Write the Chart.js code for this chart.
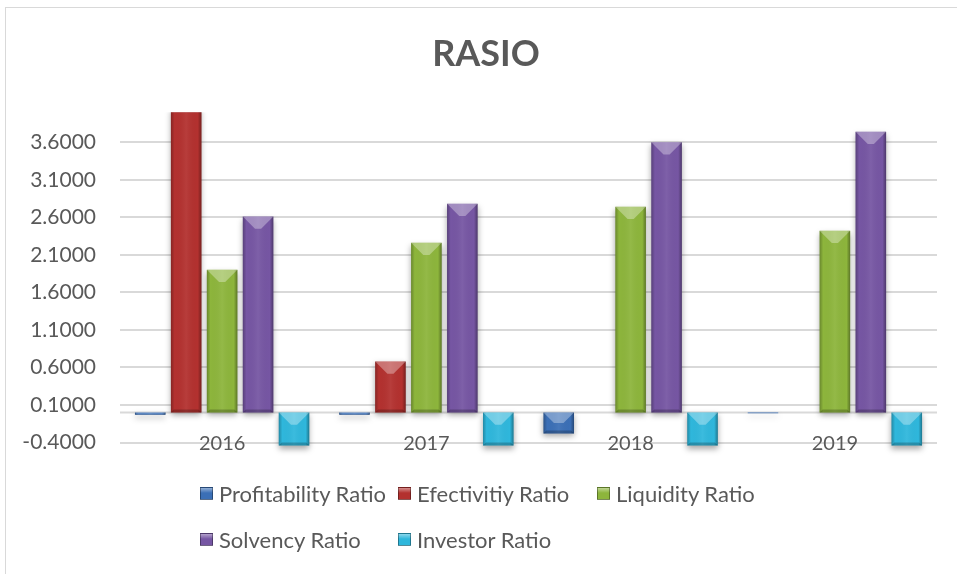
<!DOCTYPE html>
<html>
<head>
<meta charset="utf-8">
<script src="https://cdn.jsdelivr.net/npm/chart.js@4.4.0/dist/chart.umd.min.js"></script>
<style>
  body { margin: 0; background: #fff; font-family: Lato, sans-serif; }
  #wrap { position: relative; width: 957px; height: 574px; overflow: hidden; }
  #frame { position: absolute; left: 5px; top: 7px; width: 1000px; height: 620px; border: 1px solid #d9d9d9; box-sizing: border-box; }
  canvas { position: absolute; left: 0; top: 0; }
  #legend { position: absolute; left: 200px; top: 480px; width: 600px; }
  .item { position: absolute; display: flex; align-items: center; white-space: nowrap; font-size: 22px; color: #595959; }
  .box { width: 13px; height: 13px; margin-right: 6px; box-sizing: border-box; border: 1px solid rgba(0,0,0,0.35); }
</style>
</head>
<body>
<div id="wrap">
  <div id="frame"></div>
  <canvas id="ratioChart" width="957" height="574"></canvas>
  <div id="legend"></div>
</div>
<script>
// chart data
const years = ['2016', '2017', '2018', '2019'];
const profitability = [-0.03, -0.03, -0.28, -0.01];
const efectivitiy = [4.05, 0.68, 0, 0];
const liquidity = [1.90, 2.26, 2.74, 2.42];
const solvency = [2.61, 2.78, 3.60, 3.74];
const investor = [-0.44, -0.44, -0.44, -0.44];
const yTicks = [-0.4, 0.1, 0.6, 1.1, 1.6, 2.1, 2.6, 3.1, 3.6];

const seriesNames = ['Profitability Ratio', 'Efectivitiy Ratio', 'Liquidity Ratio', 'Solvency Ratio', 'Investor Ratio'];
const seriesColors = ['#3b6fb6', '#b3312f', '#8db53c', '#7656a3', '#2fb7dc'];
const seriesData = [profitability, efectivitiy, liquidity, solvency, investor];

const textColor = '#595959';
const gridColor = '#d9d9d9';

// zero axis line + soft shadow under bars + bevel look
const bevelPlugin = {
    id: 'bevel',
    afterLayout(chart) {
        // the original chart box is wider than the picture, so its title sits right of centre
        if (chart.titleBlock) chart.titleBlock.left = 35;
    },
    beforeDatasetsDraw(chart) {
        const ctx = chart.ctx;
        const area = chart.chartArea;
        const y0 = chart.scales.y.getPixelForValue(0);
        ctx.save();
        ctx.strokeStyle = gridColor;
        ctx.lineWidth = 2;
        ctx.beginPath();
        ctx.moveTo(area.left, y0);
        ctx.lineTo(area.right, y0);
        ctx.stroke();
        ctx.restore();
        ctx.save();
        ctx.shadowColor = 'rgba(0,0,0,0.35)';
        ctx.shadowBlur = 6;
        ctx.shadowOffsetY = 3;
    },
    afterDatasetsDraw(chart) {
        const ctx = chart.ctx;
        ctx.restore();
        const area = chart.chartArea;
        chart.data.datasets.forEach((ds, di) => {
            const meta = chart.getDatasetMeta(di);
            ctx.save();
            if (ds.clip !== false) {
                ctx.beginPath();
                ctx.rect(area.left, area.top, area.right - area.left, area.bottom - area.top);
                ctx.clip();
            }
            meta.data.forEach(el => {
                const p = el.getProps(['x', 'y', 'base', 'width'], true);
                const left = p.x - p.width / 2;
                const right = p.x + p.width / 2;
                const top = Math.min(p.y, p.base);
                const bottom = Math.max(p.y, p.base);
                const h = bottom - top;
                if (h < 1) return;
                // side shading
                const g = ctx.createLinearGradient(left, 0, right, 0);
                g.addColorStop(0, 'rgba(0,0,0,0.25)');
                g.addColorStop(0.12, 'rgba(0,0,0,0)');
                g.addColorStop(0.5, 'rgba(255,255,255,0.06)');
                g.addColorStop(0.88, 'rgba(0,0,0,0)');
                g.addColorStop(1, 'rgba(0,0,0,0.35)');
                ctx.fillStyle = g;
                ctx.fillRect(left, top, p.width, h);
                const b = Math.min(p.width * 0.4, h / 2);
                // light top facet
                if (top >= area.top) {
                    ctx.fillStyle = 'rgba(255,255,255,0.32)';
                    ctx.beginPath();
                    ctx.moveTo(left, top);
                    ctx.lineTo(right, top);
                    ctx.lineTo(right - b, top + b);
                    ctx.lineTo(left + b, top + b);
                    ctx.closePath();
                    ctx.fill();
                }
                // dark bottom edge
                const e = Math.min(3, h / 4);
                ctx.fillStyle = 'rgba(0,0,0,0.22)';
                ctx.beginPath();
                ctx.moveTo(left, bottom);
                ctx.lineTo(right, bottom);
                ctx.lineTo(right - e, bottom - e);
                ctx.lineTo(left + e, bottom - e);
                ctx.closePath();
                ctx.fill();
            });
            ctx.restore();
        });
    }
};

const datasets = seriesNames.map((name, i) => ({
    label: name,
    data: seriesData[i],
    backgroundColor: seriesColors[i],
    borderWidth: 0,
    categoryPercentage: 0.88,
    barPercentage: 0.85,
    clip: name === 'Investor Ratio' ? false : undefined
}));

const chart = new Chart(document.getElementById('ratioChart'), {
    type: 'bar',
    data: { labels: years, datasets: datasets },
    plugins: [bevelPlugin],
    options: {
        responsive: false,
        animation: false,
        devicePixelRatio: 1,
        layout: { padding: { left: 0, right: 20, top: 0, bottom: 101.5 } },
        scales: {
            x: {
                grid: { display: false, drawTicks: false },
                border: { display: false },
                // mirrored so the year labels sit on the bottom gridline like the original
                ticks: { color: textColor, mirror: true, padding: -13, font: { family: 'Lato', size: 20 } },
                afterFit(scale) { scale.height = 30; }
            },
            y: {
                min: -0.4,
                max: 4.0,
                afterBuildTicks(axis) { axis.ticks = yTicks.map(v => ({ value: v })); },
                grid: { color: gridColor, lineWidth: 2, drawTicks: false },
                border: { display: false },
                ticks: {
                    color: textColor,
                    padding: 24,
                    font: { family: 'Lato', size: 21 },
                    callback: v => Number(v).toFixed(4)
                },
                afterFit(scale) { scale.width = 120; }
            }
        },
        plugins: {
            legend: { display: false },
            tooltip: { enabled: false },
            title: {
                display: true,
                text: 'RASIO',
                color: textColor,
                font: { family: 'Lato', size: 36, weight: 'bold' },
                padding: { top: 33, bottom: 36 }
            }
        }
    }
});

// legend laid out in columns like the original
const legendEl = document.getElementById('legend');
const colX = [0, 198, 397];
chart.data.datasets.forEach((ds, i) => {
    const item = document.createElement('div');
    item.className = 'item';
    item.style.left = colX[i % 3] + 'px';
    item.style.top = (Math.floor(i / 3) * 46) + 'px';
    const box = document.createElement('span');
    box.className = 'box';
    box.style.background = 'linear-gradient(180deg, rgba(255,255,255,0.45) 0%, rgba(255,255,255,0) 45%), ' + ds.backgroundColor;
    const label = document.createElement('span');
    label.textContent = ds.label;
    item.appendChild(box);
    item.appendChild(label);
    legendEl.appendChild(item);
});
</script>
</body>
</html>
